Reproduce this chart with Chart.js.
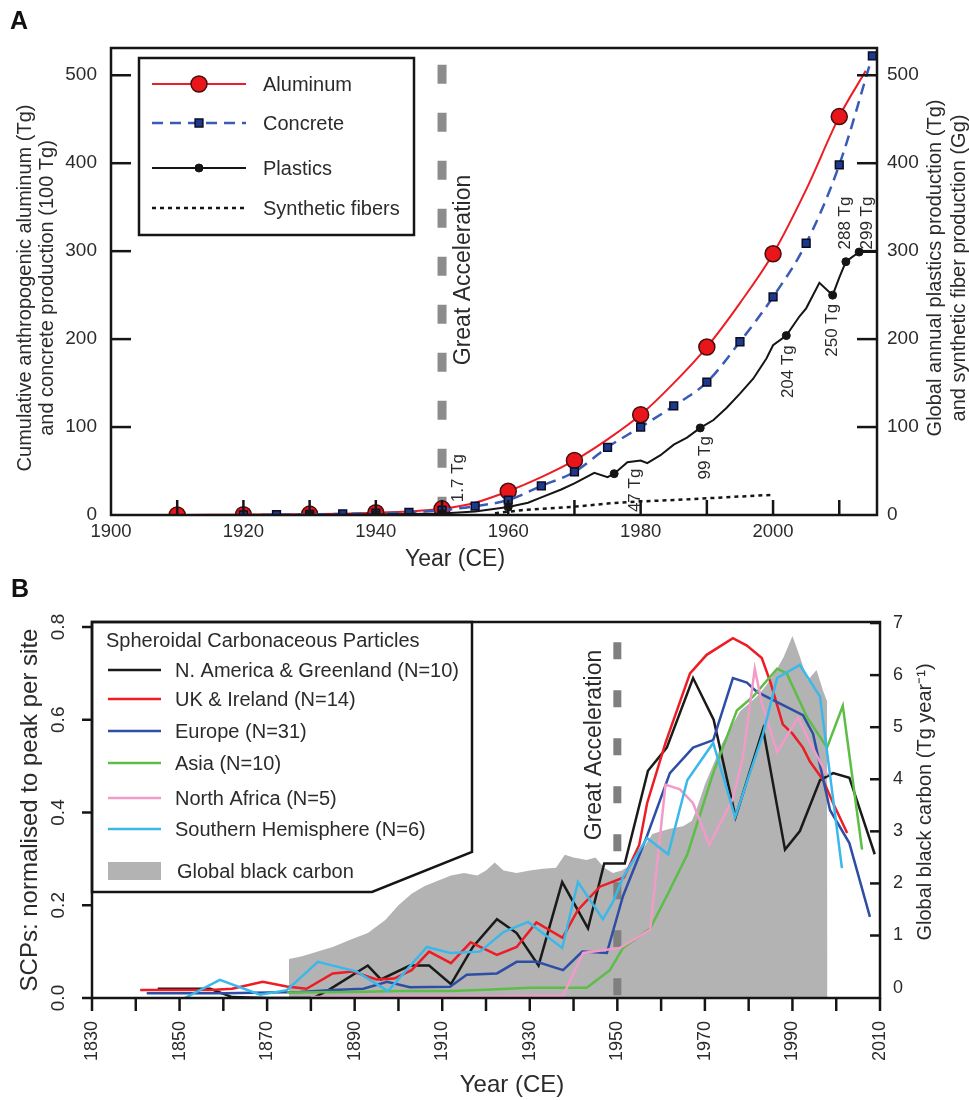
<!DOCTYPE html>
<html>
<head>
<meta charset="utf-8">
<title>Aluminum, concrete, plastics and SCPs</title>
<script src="https://cdn.jsdelivr.net/npm/chart.js@4.4.1/dist/chart.umd.min.js"></script>
<style>
  html, body { margin: 0; padding: 0; background: #fff; }
  #page { position: relative; width: 969px; height: 1100px; }
  .box { position: absolute; left: 0; width: 969px; }
  #boxA { top: 0; height: 575px; }
  #boxB { top: 575px; height: 525px; }
</style>
</head>
<body>
<div id="page">
  <div class="box" id="boxA"><canvas id="chartA"></canvas></div>
  <div class="box" id="boxB"><canvas id="chartB"></canvas></div>
</div>
<script>
// ---------- panel A data ----------
const yearTicksA = [1900, 1910, 1920, 1930, 1940, 1950, 1960, 1970, 1980, 1990, 2000, 2010];
const valueTicksA = [0, 100, 200, 300, 400, 500];

const aluminumYears = [1900, 1905, 1910, 1915, 1920, 1925, 1930, 1935, 1940, 1945, 1950, 1955, 1960, 1965, 1970, 1975, 1980, 1985, 1990, 1995, 2000, 2005, 2010, 2014];
const aluminumTg = [0, 0, 0.1, 0.2, 0.4, 0.6, 1, 1.5, 2.5, 4, 7, 14, 27, 43, 62, 86, 114, 150, 191, 241, 297, 370, 453, 505];
const aluminumMarked = [1910, 1920, 1930, 1940, 1950, 1960, 1970, 1980, 1990, 2000, 2010];

const concreteYears = [1920, 1925, 1930, 1935, 1940, 1945, 1950, 1955, 1960, 1965, 1970, 1975, 1980, 1985, 1990, 1995, 2000, 2005, 2010, 2015];
const concrete100Tg = [0, 0.3, 0.7, 1.2, 2, 3, 5.5, 10, 17, 33, 49, 77, 100, 124, 151, 197, 248, 309, 398, 522];

const plasticYears = [1930, 1940, 1950, 1955, 1960, 1963, 1965, 1968, 1970, 1973, 1975, 1976, 1978, 1980, 1981, 1983, 1985, 1987, 1989, 1991, 1993, 1995, 1997, 1999, 2000, 2002, 2004, 2005, 2007, 2009, 2010, 2011, 2013, 2015.7];
const plasticTg = [0, 0.5, 1.7, 4, 9, 14, 20, 29, 36, 48, 43, 47, 60, 62, 59, 68, 80, 88, 99, 108, 122, 138, 155, 178, 193, 204, 226, 235, 264, 250, 270, 288, 299, 299];
const plasticMarked = [1930, 1940, 1950, 1960, 1976, 1989, 2002, 2009, 2011, 2013];

const fiberYears = [1958, 1962, 1966, 1970, 1975, 1980, 1985, 1990, 1995, 2000];
const fiberGg = [2, 5.5, 7.5, 9.5, 13, 15.5, 17, 19, 21, 23];

const plasticNotes = ['1.7 Tg', '47 Tg', '99 Tg', '204 Tg', '250 Tg', '288 Tg', '299 Tg'];
const noteYears = [1952.4, 1979.2, 1989.7, 2002.3, 2008.9, 2010.9, 2014.2];
const noteLevels = [42, 28, 65, 163, 210, 332, 332];

const greatAccelYear = 1950;
const gaSpanA = [512, 0];

// ---------- panel B data ----------
const yearTicksB = [1830, 1840, 1850, 1860, 1870, 1880, 1890, 1900, 1910, 1920, 1930, 1940, 1950, 1960, 1970, 1980, 1990, 2000, 2010];
const scpTicks = [0, 0.2, 0.4, 0.6, 0.8];
const carbonTicks = [0, 1, 2, 3, 4, 5, 6, 7];

const naYears = [1845, 1850, 1857, 1862, 1870, 1880.5, 1884, 1893, 1896, 1902.6, 1907, 1912, 1917, 1922.5, 1927, 1932, 1937.4, 1943.3, 1947, 1951.7, 1957, 1961.3, 1967.3, 1972, 1977, 1983.3, 1988.3, 1991.7, 1996.3, 1999.3, 2003, 2008.8];
const naValues = [0.02, 0.02, 0.02, 0.002, 0, 0, 0.017, 0.07, 0.04, 0.07, 0.07, 0.03, 0.11, 0.17, 0.14, 0.07, 0.25, 0.15, 0.29, 0.29, 0.49, 0.54, 0.69, 0.6, 0.39, 0.58, 0.32, 0.36, 0.47, 0.485, 0.475, 0.31];

const ukYears = [1841, 1850, 1857, 1862, 1869, 1874.5, 1879, 1885, 1889.6, 1895, 1899, 1903, 1907, 1912, 1916.5, 1922.5, 1927, 1931.5, 1937.5, 1941, 1946, 1951.5, 1955, 1956.8, 1961, 1966.6, 1970.4, 1976.4, 1979.6, 1983, 1985, 1987.8, 1990, 1992.4, 1994, 1997, 1999.3, 2002.5];
const ukValues = [0.017, 0.017, 0.017, 0.02, 0.035, 0.025, 0.02, 0.053, 0.057, 0.04, 0.042, 0.06, 0.1, 0.075, 0.12, 0.093, 0.11, 0.163, 0.13, 0.19, 0.24, 0.26, 0.33, 0.42, 0.55, 0.70, 0.74, 0.776, 0.76, 0.733, 0.68, 0.59, 0.57, 0.54, 0.51, 0.47, 0.42, 0.356];

const euYears = [1842.5, 1860, 1877.5, 1885, 1892, 1897.4, 1902.6, 1911.8, 1915.6, 1922.5, 1927, 1931.6, 1937.6, 1942, 1947.6, 1951.3, 1956.8, 1962, 1967.3, 1971.9, 1976.4, 1979.6, 1981.9, 1992.4, 1994.7, 1998.6, 2003, 2007.7];
const euValues = [0.01, 0.01, 0.013, 0.017, 0.02, 0.035, 0.023, 0.024, 0.05, 0.053, 0.078, 0.078, 0.06, 0.1, 0.097, 0.22, 0.35, 0.485, 0.54, 0.556, 0.69, 0.68, 0.66, 0.61, 0.57, 0.405, 0.334, 0.175];

const asiaYears = [1874.5, 1890, 1900, 1912, 1920, 1930, 1943, 1948.3, 1951.3, 1957.5, 1961.3, 1966, 1971.9, 1977.3, 1981, 1986.5, 1988.7, 1993.3, 1997.9, 2001.5, 2005.9];
const asiaValues = [0.012, 0.013, 0.015, 0.015, 0.018, 0.022, 0.022, 0.06, 0.108, 0.15, 0.22, 0.31, 0.485, 0.62, 0.65, 0.71, 0.70, 0.606, 0.54, 0.63, 0.32];

const nafYears = [1880, 1900, 1920, 1937.6, 1942.2, 1950.6, 1957.5, 1961, 1964.3, 1967.3, 1971, 1976.4, 1978.7, 1981.4, 1983, 1986.5, 1991.3, 1994, 1998];
const nafValues = [0.002, 0.003, 0.003, 0.005, 0.097, 0.108, 0.147, 0.46, 0.45, 0.42, 0.33, 0.43, 0.52, 0.71, 0.636, 0.53, 0.605, 0.55, 0.48];

const shYears = [1851.2, 1859.2, 1868.4, 1874.5, 1881.6, 1890.5, 1897.6, 1906.5, 1911.8, 1918.6, 1924, 1929.6, 1937.4, 1941, 1946.7, 1949, 1951.3, 1956.8, 1961.6, 1966, 1971.9, 1976.9, 1983.3, 1986.5, 1991.7, 1996.3, 2001.3];
const shValues = [0, 0.039, 0.007, 0.017, 0.078, 0.057, 0.015, 0.11, 0.097, 0.10, 0.142, 0.164, 0.108, 0.25, 0.17, 0.207, 0.26, 0.345, 0.31, 0.47, 0.55, 0.39, 0.57, 0.69, 0.718, 0.65, 0.28];

const bcYears = [1875, 1878, 1881, 1885, 1889, 1893, 1897, 1900, 1903, 1906, 1909, 1912, 1915, 1918, 1920, 1922, 1924, 1927, 1930, 1933, 1936, 1938, 1940, 1943, 1945, 1947, 1949, 1951, 1953, 1955, 1958, 1960, 1962, 1965, 1967, 1968, 1970, 1972, 1974, 1976, 1978, 1980, 1982, 1984, 1986, 1988, 1990, 1991.5, 1993.5, 1995.5, 1997, 1997.9, 1998];
const bcTg = [0.55, 0.6, 0.68, 0.78, 0.92, 1.05, 1.3, 1.58, 1.8, 1.95, 2.05, 2.15, 2.2, 2.15, 2.25, 2.4, 2.25, 2.2, 2.25, 2.28, 2.3, 2.55, 2.5, 2.45, 2.5, 2.3, 2.2, 2.25, 2.35, 2.55, 2.95, 3.0, 3.05, 3.1, 3.2, 3.4, 3.9, 4.3, 4.7, 5.0, 5.3, 5.45, 5.6, 5.8, 6.05, 6.35, 6.75, 6.4, 5.9, 6.1, 5.7, 5.5, 0];

const gaSpanB = [0.767, 0];

// ---------- helpers ----------
const FONT = '"Liberation Sans", Arial, Helvetica, sans-serif';
const INK = '#151515';
const TXT = '#2b2b2b';
Chart.defaults.font.family = FONT;
Chart.defaults.color = TXT;

function pts(xs, ys) { return xs.map((x, i) => ({ x: x, y: ys[i] })); }
function setTicks(list) { return scale => { scale.ticks = list.map(v => ({ value: v })); }; }
function markAt(list, r) { return c => (c.raw && list.includes(c.raw.x)) ? r : 0; }

function write(ctx, str, x, y, size, o) {
  o = o || {};
  ctx.save();
  ctx.translate(x, y);
  if (o.up) ctx.rotate(-Math.PI / 2);
  ctx.font = (o.bold ? 'bold ' : '') + size + 'px ' + FONT;
  ctx.fillStyle = o.color || TXT;
  ctx.textAlign = o.align || 'center';
  ctx.textBaseline = 'middle';
  ctx.fillText(str, 0, 0);
  ctx.restore();
}

// box around the plot plus tick marks (negative length = pointing inside)
function frameAndTicks(chart, specs) {
  const ctx = chart.ctx, a = chart.chartArea;
  ctx.save();
  ctx.strokeStyle = INK;
  ctx.lineWidth = 2.5;
  ctx.setLineDash([]);
  ctx.strokeRect(a.left, a.top, a.right - a.left, a.bottom - a.top);
  specs.forEach(t => {
    const s = chart.scales[t.id];
    s.ticks.forEach(tk => {
      if (t.skip && t.skip.includes(tk.value)) return;
      const p = s.getPixelForValue(tk.value);
      ctx.beginPath();
      if (t.side === 'bottom') { ctx.moveTo(p, a.bottom); ctx.lineTo(p, a.bottom + t.len); }
      if (t.side === 'left') { ctx.moveTo(a.left, p); ctx.lineTo(a.left - t.len, p); }
      if (t.side === 'right') { ctx.moveTo(a.right, p); ctx.lineTo(a.right + t.len, p); }
      ctx.stroke();
    });
  });
  ctx.restore();
}

const noGrid = { display: false, drawTicks: false };

// ---------- panel A ----------
const legendMarksA = {
  'Aluminum': { pointStyle: 'circle', radius: 8 },
  'Concrete': { pointStyle: 'rect', radius: 5.5 },
  'Plastics': { pointStyle: 'circle', radius: 4 },
  'Synthetic fibers': null
};

function legendA(chart) {
  const ctx = chart.ctx;
  const rows = [84, 123, 168, 208];
  ctx.save();
  ctx.fillStyle = '#fff';
  ctx.strokeStyle = INK;
  ctx.lineWidth = 2.5;
  ctx.fillRect(139, 58, 275, 177);
  ctx.strokeRect(139, 58, 275, 177);
  Object.keys(legendMarksA).forEach((name, i) => {
    const ds = chart.data.datasets.find(d => d.label === name);
    const y = rows[i];
    ctx.strokeStyle = ds.borderColor;
    ctx.lineWidth = ds.borderWidth;
    ctx.setLineDash(ds.borderDash || []);
    ctx.beginPath();
    ctx.moveTo(152, y);
    ctx.lineTo(246, y);
    ctx.stroke();
    ctx.setLineDash([]);
    const m = legendMarksA[name];
    if (m) {
      ctx.fillStyle = ds.pointBackgroundColor;
      ctx.strokeStyle = ds.pointBorderColor;
      ctx.lineWidth = ds.pointBorderWidth || 1;
      Chart.helpers.drawPoint(ctx, { pointStyle: m.pointStyle, radius: m.radius, borderWidth: ds.pointBorderWidth || 1 }, 199, y);
    }
    write(ctx, name, 263, y + 1, 20, { align: 'left' });
  });
  ctx.restore();
}

const panelAPlugin = {
  id: 'panelA',
  afterDraw(chart) {
    const ctx = chart.ctx;
    frameAndTicks(chart, [
      { id: 'x', side: 'bottom', len: -15, skip: [1900] },
      { id: 'y', side: 'left', len: -20, skip: [0] },
      { id: 'y1', side: 'right', len: -20, skip: [0] }
    ]);
    write(ctx, 'A', 19, 22, 25, { bold: true, color: '#111' });
    write(ctx, 'Cumulative anthropogenic aluminum (Tg)', 25, 288, 20, { up: true });
    write(ctx, 'and concrete production (100 Tg)', 47, 288, 20, { up: true });
    write(ctx, 'Global annual plastics production (Tg)', 935, 268, 20, { up: true });
    write(ctx, 'and synthetic fiber production (Gg)', 959, 268, 20, { up: true });
    write(ctx, 'Year (CE)', 455, 560, 23);
    write(ctx, 'Great Acceleration', 464, 270, 23, { up: true });
    const sx = chart.scales.x, sy = chart.scales.y1;
    plasticNotes.forEach((t, i) => {
      write(ctx, t, sx.getPixelForValue(noteYears[i]), sy.getPixelForValue(noteLevels[i]), 17, { up: true });
    });
    legendA(chart);
  }
};

const chartA = new Chart(document.getElementById('chartA'), {
  type: 'line',
  data: {
    datasets: [
      {
        label: 'Plastics', data: pts(plasticYears, plasticTg), yAxisID: 'y1',
        borderColor: INK, borderWidth: 2, tension: 0,
        pointRadius: markAt(plasticMarked, 4), pointBackgroundColor: INK, pointBorderColor: INK, pointBorderWidth: 1
      },
      {
        label: 'Concrete', data: pts(concreteYears, concrete100Tg), yAxisID: 'y',
        borderColor: '#3a5bb5', borderWidth: 2.5, borderDash: [11, 7], cubicInterpolationMode: 'monotone',
        pointStyle: 'rect', pointRadius: 5.5, pointBackgroundColor: '#1d3a8a', pointBorderColor: '#0b0b25', pointBorderWidth: 1.5
      },
      {
        label: 'Aluminum', data: pts(aluminumYears, aluminumTg), yAxisID: 'y',
        borderColor: '#ee1c24', borderWidth: 2, cubicInterpolationMode: 'monotone',
        pointRadius: markAt(aluminumMarked, 8), pointBackgroundColor: '#e8161b', pointBorderColor: '#4a0c0c', pointBorderWidth: 1.5
      },
      {
        label: 'Synthetic fibers', data: pts(fiberYears, fiberGg), yAxisID: 'y1',
        borderColor: INK, borderWidth: 2.5, borderDash: [4, 4], pointRadius: 0
      },
      {
        label: 'Great Acceleration', data: pts([greatAccelYear, greatAccelYear], gaSpanA), yAxisID: 'y',
        borderColor: '#8c8c8c', borderWidth: 9, borderDash: [19, 29], borderCapStyle: 'butt', pointRadius: 0
      }
    ]
  },
  options: {
    responsive: true, maintainAspectRatio: false, animation: false, devicePixelRatio: 1, events: [],
    layout: { padding: { top: 48, left: 0, right: 0, bottom: 0 } },
    plugins: { legend: { display: false }, tooltip: { enabled: false } },
    scales: {
      x: {
        type: 'linear', min: 1900, max: 2015.7,
        afterBuildTicks: setTicks(yearTicksA),
        afterFit: s => { s.height = 60; },
        grid: noGrid, border: { display: false },
        ticks: { padding: 6, autoSkip: false, maxRotation: 0, font: { size: 18.5 },
                 callback: v => (v % 20 === 0 ? String(v) : '') }
      },
      y: {
        position: 'left', min: 0, max: 531,
        afterBuildTicks: setTicks(valueTicksA),
        afterFit: s => { s.width = 111; },
        grid: noGrid, border: { display: false },
        ticks: { padding: 14, font: { size: 19 } }
      },
      y1: {
        position: 'right', min: 0, max: 531,
        afterBuildTicks: setTicks(valueTicksA),
        afterFit: s => { s.width = 92; },
        grid: noGrid, border: { display: false },
        ticks: { padding: 10, font: { size: 19 } }
      }
    }
  },
  plugins: [panelAPlugin]
});

// ---------- panel B ----------
const legendOrderB = [
  'N. America & Greenland (N=10)',
  'UK & Ireland (N=14)',
  'Europe (N=31)',
  'Asia (N=10)',
  'North Africa (N=5)',
  'Southern Hemisphere (N=6)'
];

function legendB(chart) {
  const ctx = chart.ctx, a = chart.chartArea;
  const rows = [95, 124, 156, 188, 223, 254];
  ctx.save();
  ctx.beginPath();
  ctx.moveTo(a.left, a.top);
  ctx.lineTo(472, a.top);
  ctx.lineTo(472, 277);
  ctx.lineTo(372, 317);
  ctx.lineTo(a.left, 317);
  ctx.closePath();
  ctx.fillStyle = '#fff';
  ctx.fill();
  ctx.strokeStyle = INK;
  ctx.lineWidth = 2.5;
  ctx.stroke();
  write(ctx, 'Spheroidal Carbonaceous Particles', 106, 66, 20, { align: 'left' });
  legendOrderB.forEach((name, i) => {
    const ds = chart.data.datasets.find(d => d.label === name);
    ctx.strokeStyle = ds.borderColor;
    ctx.lineWidth = ds.borderWidth;
    ctx.beginPath();
    ctx.moveTo(108, rows[i]);
    ctx.lineTo(161, rows[i]);
    ctx.stroke();
    write(ctx, name, 175, rows[i] + 1, 20, { align: 'left' });
  });
  const bc = chart.data.datasets.find(d => d.label === 'Global black carbon');
  ctx.fillStyle = bc.backgroundColor;
  ctx.fillRect(108, 287, 53, 18);
  write(ctx, 'Global black carbon', 177, 297, 20, { align: 'left' });
  ctx.restore();
}

const panelBPlugin = {
  id: 'panelB',
  afterDraw(chart) {
    const ctx = chart.ctx;
    legendB(chart);
    frameAndTicks(chart, [
      { id: 'x', side: 'bottom', len: 13 },
      { id: 'y', side: 'left', len: 10 },
      { id: 'y1', side: 'right', len: -10, skip: [0] }
    ]);
    const sy = chart.scales.y;
    sy.ticks.forEach(t => write(ctx, t.value.toFixed(1), 59, sy.getPixelForValue(t.value), 19, { up: true }));
    write(ctx, 'B', 20, 15, 25, { bold: true, color: '#111' });
    write(ctx, 'SCPs: normalised to peak per site', 30, 235, 24, { up: true });
    write(ctx, 'Global black carbon (Tg year\u207B\u00B9)', 925, 227, 20, { up: true });
    write(ctx, 'Year (CE)', 512, 510, 24);
    write(ctx, 'Great Acceleration', 595, 170, 23, { up: true });
  }
};

function scpLine(label, xs, ys, color) {
  return { label: label, data: pts(xs, ys), yAxisID: 'y', borderColor: color, borderWidth: 2.5, pointRadius: 0, tension: 0 };
}

const chartB = new Chart(document.getElementById('chartB'), {
  type: 'line',
  data: {
    datasets: [
      scpLine('Southern Hemisphere (N=6)', shYears, shValues, '#3bb8ea'),
      scpLine('North Africa (N=5)', nafYears, nafValues, '#f29ac8'),
      scpLine('Asia (N=10)', asiaYears, asiaValues, '#5cbd47'),
      scpLine('Europe (N=31)', euYears, euValues, '#2e4ea6'),
      scpLine('UK & Ireland (N=14)', ukYears, ukValues, '#ee1c24'),
      scpLine('N. America & Greenland (N=10)', naYears, naValues, '#1a1a1a'),
      {
        label: 'Great Acceleration', data: pts([greatAccelYear, greatAccelYear], gaSpanB), yAxisID: 'y',
        borderColor: '#7f7f7f', borderWidth: 8, borderDash: [17, 31], borderCapStyle: 'butt', pointRadius: 0
      },
      {
        label: 'Global black carbon', data: pts(bcYears, bcTg), yAxisID: 'y1',
        fill: 'start', backgroundColor: '#b3b3b3', borderWidth: 0, borderColor: 'rgba(0,0,0,0)', pointRadius: 0, tension: 0
      }
    ]
  },
  options: {
    responsive: true, maintainAspectRatio: false, animation: false, devicePixelRatio: 1, events: [],
    layout: { padding: { top: 47, left: 0, right: 0, bottom: 0 } },
    plugins: { legend: { display: false }, tooltip: { enabled: false } },
    scales: {
      x: {
        type: 'linear', min: 1830, max: 2010,
        afterBuildTicks: setTicks(yearTicksB),
        afterFit: s => { s.height = 102; },
        grid: noGrid, border: { display: false },
        ticks: { padding: 23, autoSkip: false, minRotation: 90, maxRotation: 90, font: { size: 18 },
                 callback: v => ((v - 1830) % 20 === 0 ? String(v) : '') }
      },
      y: {
        position: 'left', min: 0, max: 0.8108,
        afterBuildTicks: setTicks(scpTicks),
        afterFit: s => { s.width = 92; },
        grid: noGrid, border: { display: false },
        ticks: { display: false }
      },
      y1: {
        position: 'right', min: -0.2, max: 7.02,
        afterBuildTicks: setTicks(carbonTicks),
        afterFit: s => { s.width = 89; },
        grid: noGrid, border: { display: false },
        ticks: { padding: 13, font: { size: 18 } }
      }
    }
  },
  plugins: [panelBPlugin]
});
</script>
</body>
</html>
